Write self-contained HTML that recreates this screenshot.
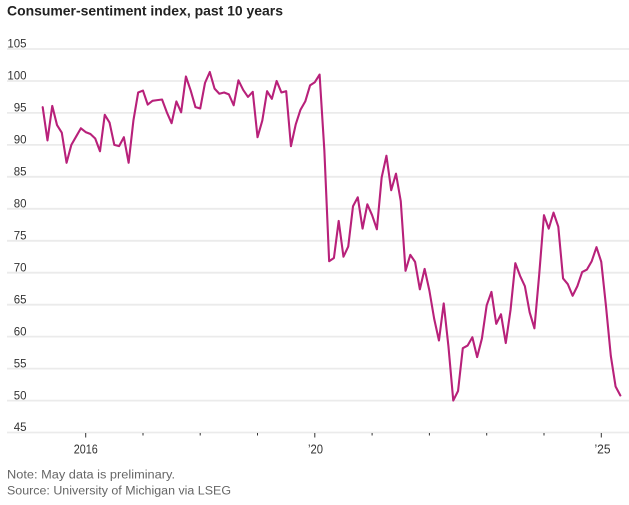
<!DOCTYPE html>
<html>
<head>
<meta charset="utf-8">
<style>
  html, body { margin: 0; padding: 0; background: #ffffff; }
  svg { display: block; }
  text { font-family: "Liberation Sans", "DejaVu Sans", sans-serif; }
</style>
</head>
<body>
<svg width="629" height="505" viewBox="0 0 629 505" xmlns="http://www.w3.org/2000/svg">
  <rect x="0" y="0" width="629" height="505" fill="#ffffff"/>

  <!-- Title -->
  <text x="7" y="15.5" font-size="14" font-weight="bold" fill="#222222" textLength="276" lengthAdjust="spacingAndGlyphs">Consumer-sentiment index, past 10 years</text>

  <!-- Gridlines -->
  <g stroke="#ebebeb" stroke-width="1.8">
    <line x1="7" x2="629" y1="49.0" y2="49.0"/>
    <line x1="7" x2="629" y1="81.0" y2="81.0"/>
    <line x1="7" x2="629" y1="112.9" y2="112.9"/>
    <line x1="7" x2="629" y1="144.9" y2="144.9"/>
    <line x1="7" x2="629" y1="176.8" y2="176.8"/>
    <line x1="7" x2="629" y1="208.8" y2="208.8"/>
    <line x1="7" x2="629" y1="240.8" y2="240.8"/>
    <line x1="7" x2="629" y1="272.7" y2="272.7"/>
    <line x1="7" x2="629" y1="304.7" y2="304.7"/>
    <line x1="7" x2="629" y1="336.6" y2="336.6"/>
    <line x1="7" x2="629" y1="368.6" y2="368.6"/>
    <line x1="7" x2="629" y1="400.6" y2="400.6"/>
    <line x1="7" x2="629" y1="432.5" y2="432.5"/>
  </g>

  <!-- Y labels -->
  <g font-size="11.5" fill="#333333" text-anchor="end">
    <text x="26.5" y="47.7">105</text>
    <text x="26.5" y="79.7">100</text>
    <text x="26.5" y="111.6">95</text>
    <text x="26.5" y="143.6">90</text>
    <text x="26.5" y="175.5">85</text>
    <text x="26.5" y="207.5">80</text>
    <text x="26.5" y="239.5">75</text>
    <text x="26.5" y="271.4">70</text>
    <text x="26.5" y="303.4">65</text>
    <text x="26.5" y="335.3">60</text>
    <text x="26.5" y="367.3">55</text>
    <text x="26.5" y="399.3">50</text>
    <text x="26.5" y="431.2">45</text>
  </g>

  <!-- Ticks -->
  <g stroke="#333333" stroke-width="1">
    <line x1="85.7" x2="85.7" y1="433" y2="437.5"/>
    <line x1="143.0" x2="143.0" y1="433" y2="435.5"/>
    <line x1="200.2" x2="200.2" y1="433" y2="435.5"/>
    <line x1="257.5" x2="257.5" y1="433" y2="435.5"/>
    <line x1="314.8" x2="314.8" y1="433" y2="437.5"/>
    <line x1="372.1" x2="372.1" y1="433" y2="435.5"/>
    <line x1="429.4" x2="429.4" y1="433" y2="435.5"/>
    <line x1="486.7" x2="486.7" y1="433" y2="435.5"/>
    <line x1="544.0" x2="544.0" y1="433" y2="435.5"/>
    <line x1="601.3" x2="601.3" y1="433" y2="437.5"/>
  </g>

  <!-- X labels -->
  <g font-size="13" fill="#333333" text-anchor="middle">
    <text x="85.8" y="453.3" textLength="24" lengthAdjust="spacingAndGlyphs">2016</text>
    <text x="315.5" y="453.3" textLength="15" lengthAdjust="spacingAndGlyphs">’20</text>
    <text x="602.5" y="453.3" textLength="16" lengthAdjust="spacingAndGlyphs">’25</text>
  </g>

  <!-- Series -->
  <g transform="matrix(4.774 0 0 -6.392 42.7 720.16)">
    <polyline fill="none" stroke="#b8217a" stroke-width="2.1" stroke-linejoin="round" stroke-linecap="round" vector-effect="non-scaling-stroke"
      points="0,95.9 1,90.7 2,96.1 3,93.1 4,91.9 5,87.2 6,90.0 7,91.3 8,92.6
              9,92.0 10,91.7 11,91.0 12,89.0 13,94.7 14,93.5 15,90.0 16,89.8 17,91.2 18,87.2 19,93.8 20,98.2
              21,98.5 22,96.3 23,96.9 24,97.0 25,97.1 26,95.1 27,93.4 28,96.8 29,95.1 30,100.7 31,98.5 32,95.9
              33,95.7 34,99.7 35,101.4 36,98.8 37,98.0 38,98.2 39,97.9 40,96.2 41,100.1 42,98.6 43,97.5 44,98.3
              45,91.2 46,93.8 47,98.4 48,97.2 49,100.0 50,98.2 51,98.4 52,89.8 53,93.2 54,95.5 55,96.8 56,99.3
              57,99.8 58,101.0 59,89.1 60,71.8 61,72.3 62,78.1 63,72.5 64,74.1 65,80.4 66,81.8 67,76.9 68,80.7
              69,79.0 70,76.8 71,84.9 72,88.3 73,82.9 74,85.5 75,81.2 76,70.3 77,72.8 78,71.7 79,67.4 80,70.6
              81,67.2 82,62.8 83,59.4 84,65.2 85,58.4 86,50.0 87,51.5 88,58.2 89,58.6 90,59.9 91,56.8 92,59.7
              93,64.9 94,67.0 95,62.0 96,63.5 97,59.0 98,64.2 99,71.5 100,69.5 101,67.9 102,63.8 103,61.3 104,69.7
              105,79.0 106,76.9 107,79.4 108,77.2 109,69.1 110,68.2 111,66.4 112,67.9 113,70.1 114,70.5 115,71.8 116,74.0
              117,71.7 118,64.7 119,57.0 120,52.2 121,50.8"/>
  </g>

  <!-- Notes -->
  <g font-size="11.5" fill="#666666">
    <text x="7" y="478.7" textLength="168" lengthAdjust="spacingAndGlyphs">Note: May data is preliminary.</text>
    <text x="7" y="494.7" textLength="224" lengthAdjust="spacingAndGlyphs">Source: University of Michigan via LSEG</text>
  </g>
</svg>
</body>
</html>
